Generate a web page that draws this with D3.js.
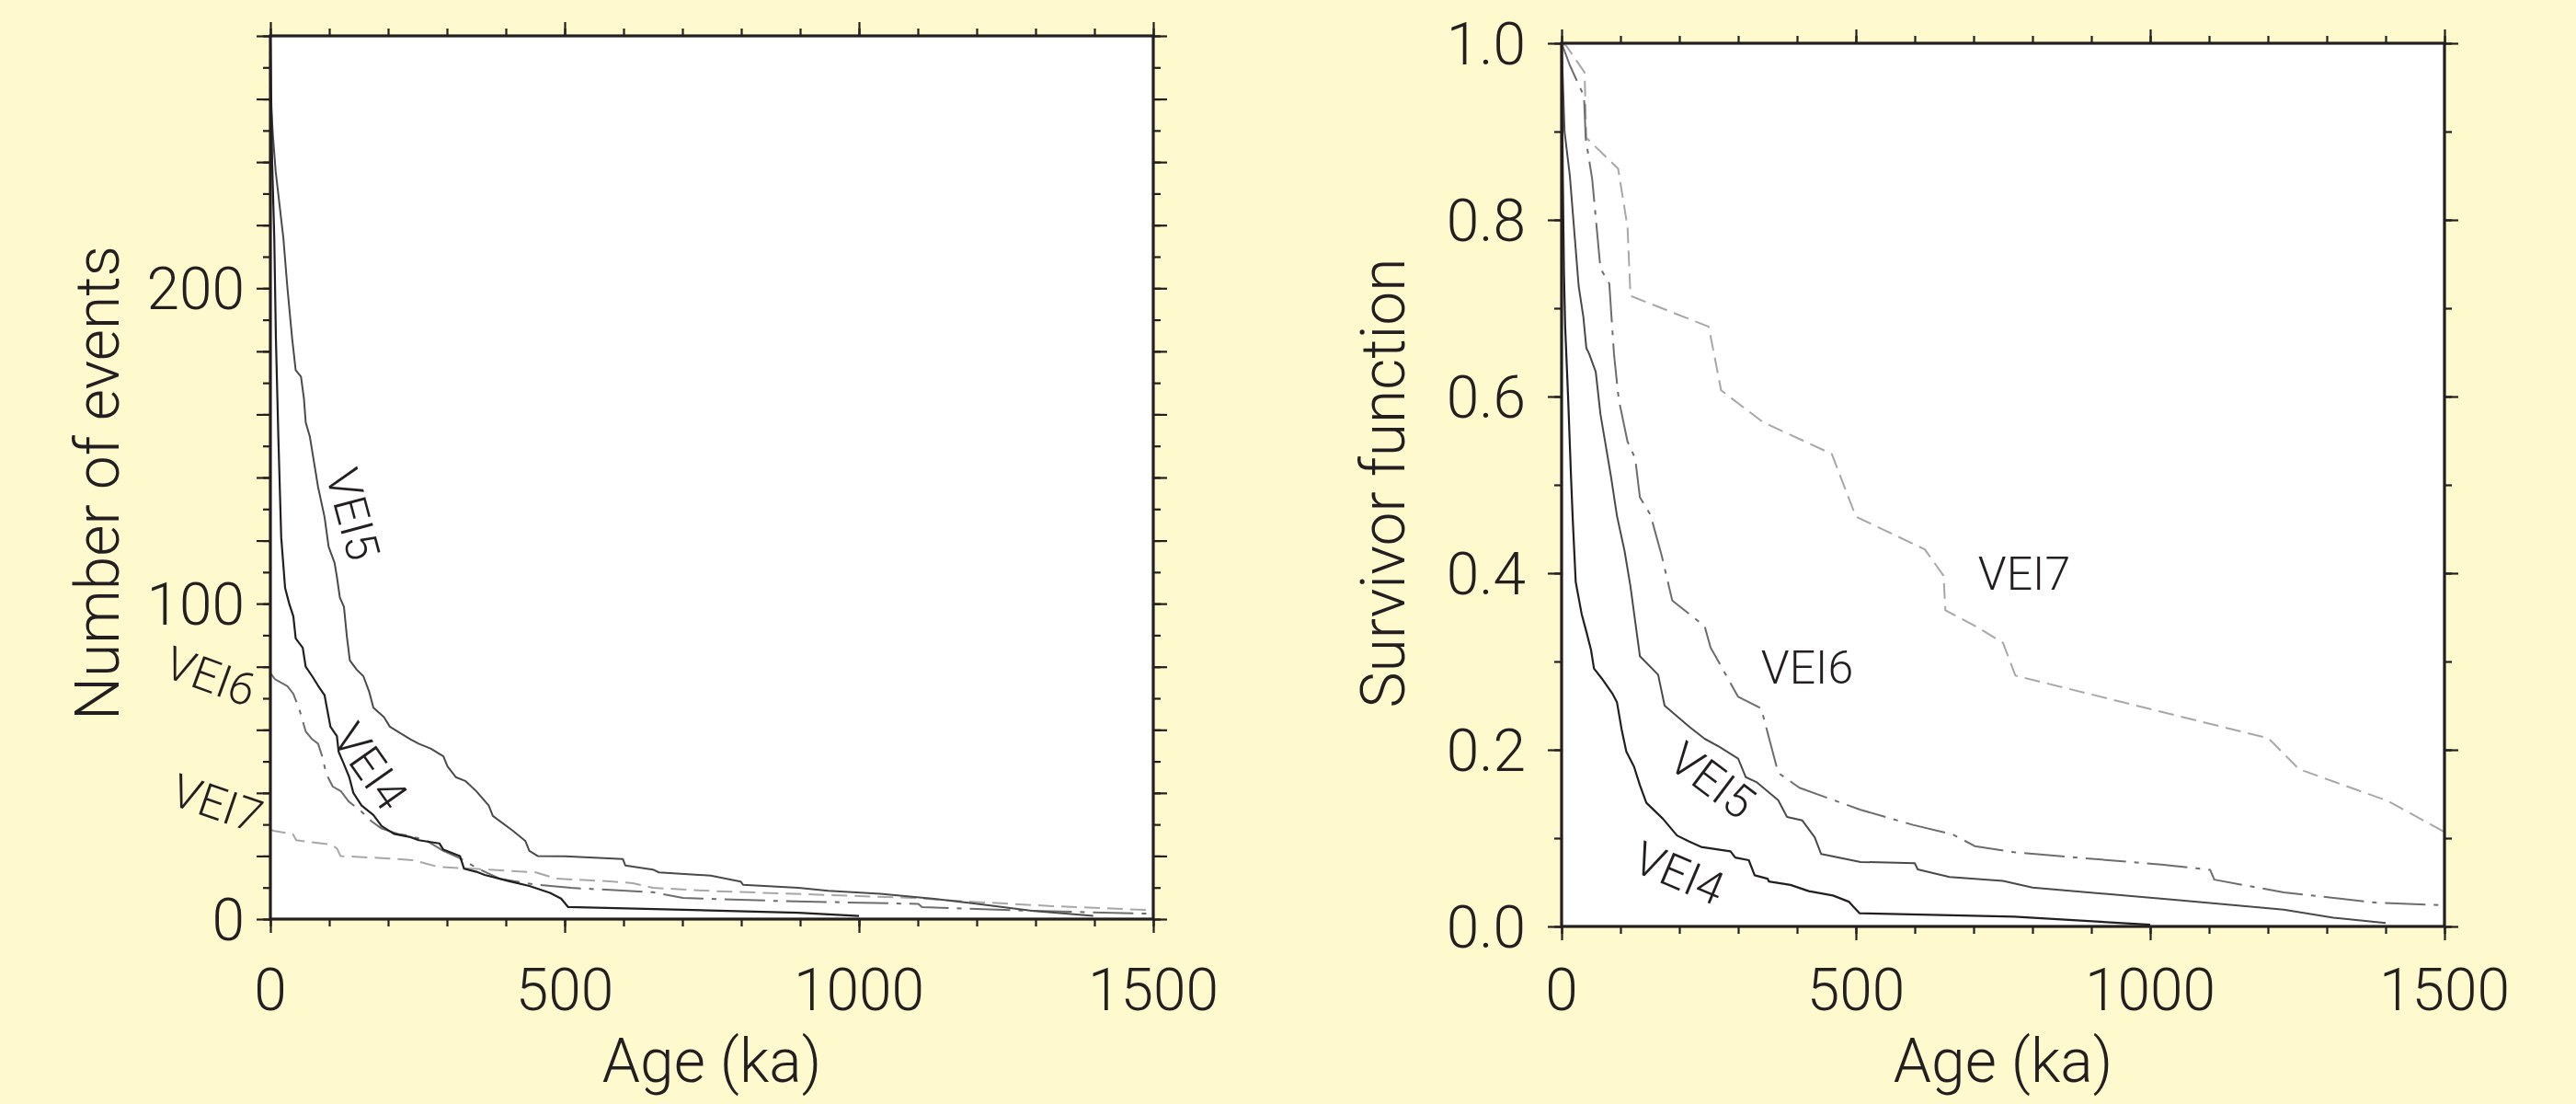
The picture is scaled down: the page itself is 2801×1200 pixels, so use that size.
<!DOCTYPE html>
<html>
<head>
<meta charset="utf-8">
<script src="https://cdn.jsdelivr.net/npm/d3@7"></script>
<style>
  html, body { margin: 0; padding: 0; background: #FFFACD; }
  svg { display: block; }
  text { font-family: Roboto, "Liberation Sans", sans-serif; font-weight: 300; fill: #231f20; }
</style>
</head>
<body>
<svg id="chart" width="2801" height="1200"></svg>
<script>
// ---------------- DATA ----------------
// Left panel: cumulative number of events vs age (ka)
const vei4Count = [[0,278],[3,240],[6.6,216],[9.4,184],[13.5,153],[18.4,121],[25,105],[32,100],[39,96],[43,89],[55,86],[60,80],[71,77],[81,74],[92,71],[99,64],[102,61],[113,58],[116,53],[123,50],[134,45],[141,40],[155,36],[175,33],[189,29.5],[210,27],[238,26],[252,25],[287,24],[294,22],[322,20],[329,16],[350,15],[364,14],[406,12],[440,10.5],[475,8.3],[494,6.5],[506,3.8],[718,2.9],[897,2],[1000,1]];
const vei5Count = [[0,262],[4.5,248],[9,237],[22,216],[29,200],[37,184],[43,174],[52,172],[57,165],[60,157.5],[67,153],[74,145],[81,137],[92,127.5],[99,118],[109,113],[113,108.5],[118,102],[125,99],[130,89.5],[135,82],[147,79],[158,77],[168,72],[175,67],[193,64],[203,61],[220,59],[238,57],[252,55.6],[273,54],[294,51.6],[301,48.4],[315,45],[332,43.7],[350,40.5],[371,36],[378,32.7],[412,28],[433,24.8],[440,21.6],[454,20],[501,19.9],[599,19],[603,17],[650,15.7],[660,14.8],[748,13.8],[799,11.9],[803,10.9],[897,9.9],[948,9],[1036,8],[1124,6.5],[1192,5],[1294,2.6],[1398,1]];
const vei6Count = [[0,78],[8,76],[29,73.8],[39,71.4],[50,66],[60,59.5],[71,57],[81,55.6],[88,51.6],[95,46],[106,42],[120,40.5],[133,37.3],[154,34.2],[172,31],[189,28.7],[217,27],[238,26.3],[266,24.8],[294,21.6],[322,19.3],[343,17],[361,15.3],[390,12.8],[451,10.9],[511,9.9],[650,8.5],[701,6.7],[853,5.8],[1101,4.8],[1107,3.8],[1294,2.6],[1500,1.7]];
const vei7Count = [[0,28.5],[5,28],[38,27],[44,25],[104,23.6],[113,22.4],[119,20],[203,19.2],[242,18.7],[266,17.5],[287,16.5],[343,16],[451,14.8],[487,12.8],[582,11.9],[616,11.4],[650,9.9],[751,8.9],[1090,6.7],[1192,5.5],[1328,4.1],[1500,2.8]];

// Right panel: survivor function vs age (ka)
const vei4Surv = [[0,1.0],[2,0.85],[4,0.74],[6,0.68],[11,0.6],[16,0.509],[19,0.46],[24,0.39],[34,0.354],[42,0.334],[50,0.313],[55,0.292],[68,0.281],[86,0.264],[94,0.254],[102,0.223],[110,0.198],[123,0.181],[133,0.16],[144,0.14],[172,0.122],[196,0.103],[217,0.096],[237,0.09],[287,0.085],[295,0.078],[318,0.075],[328,0.058],[350,0.054],[352,0.051],[389,0.047],[420,0.04],[461,0.035],[488,0.028],[495,0.023],[506,0.015],[769,0.011],[1000,0.002]];
const vei5Surv = [[0,1.0],[5,0.9],[14,0.85],[29,0.725],[37,0.69],[42,0.655],[47,0.648],[58,0.628],[66,0.58],[84,0.509],[94,0.465],[107,0.425],[117,0.385],[133,0.306],[164,0.285],[175,0.25],[217,0.226],[243,0.2125],[269,0.203],[300,0.19],[313,0.169],[331,0.1635],[368,0.143],[383,0.124],[409,0.12],[430,0.101],[441,0.082],[508,0.073],[600,0.0716],[605,0.0646],[659,0.056],[750,0.0516],[800,0.044],[1045,0.030],[1227,0.019],[1311,0.010],[1400,0.004]];
const vei6Surv = [[0,1.0],[14,0.975],[38,0.94],[41,0.892],[52,0.846],[66,0.745],[81,0.728],[89,0.648],[97,0.597],[112,0.549],[125,0.53],[133,0.486],[151,0.466],[170,0.42],[188,0.369],[243,0.34],[253,0.316],[300,0.26],[339,0.247],[368,0.174],[404,0.157],[508,0.132],[597,0.115],[665,0.104],[702,0.091],[769,0.084],[1019,0.07],[1102,0.064],[1109,0.053],[1227,0.0385],[1383,0.027],[1500,0.024]];
const vei7Surv = [[0,1.0],[8,0.997],[39,0.967],[42,0.893],[96,0.858],[112,0.792],[117,0.714],[250,0.679],[271,0.607],[342,0.571],[459,0.535],[500,0.464],[617,0.427],[649,0.397],[652,0.358],[706,0.339],[750,0.321],[771,0.284],[1201,0.213],[1253,0.178],[1404,0.142],[1500,0.107]];

const xTickLabels = [0, 500, 1000, 1500];
const leftYTickLabels = [0, 100, 200];
const rightYTickLabels = [0.0, 0.2, 0.4, 0.6, 0.8, 1.0];

// ---------------- STYLES ----------------
const styles = {
  vei4: { stroke: "#231f20", dash: null, width: 2.2 },
  vei5: { stroke: "#4a4a4a", dash: null, width: 2.0 },
  vei6: { stroke: "#6d6d6d", dash: "44,9,5,9", width: 2.0 },
  vei7: { stroke: "#a7a7a9", dash: "17,8", width: 2.0 }
};

const svg = d3.select("#chart");
const FONT_TICK = 64, FONT_TITLE = 66, FONT_LBL = 50;

function panel(opts) {
  const { left, top, size, yDomain, yMinor, yMajor, yLabels, yFmt, yLabelEnd, series, titleY, titleYPos, titleXCenter, clipId } = opts;
  const x = d3.scaleLinear().domain([0, 1500]).range([left, left + size]);
  const y = d3.scaleLinear().domain(yDomain).range([top + size, top]);
  const g = svg.append("g");

  // plot background
  g.append("rect").attr("x", left).attr("y", top).attr("width", size).attr("height", size).attr("fill", "#ffffff");

  svg.append("clipPath").attr("id", clipId).append("rect")
    .attr("x", left).attr("y", top).attr("width", size).attr("height", size);

  // series
  const line = d3.line().x(d => x(d[0])).y(d => y(d[1]));
  const sg = g.append("g").attr("clip-path", `url(#${clipId})`);
  series.forEach(s => {
    const st = styles[s.key];
    sg.append("path").datum(s.data).attr("d", line)
      .attr("fill", "none").attr("stroke", st.stroke).attr("stroke-width", st.width)
      .attr("stroke-dasharray", st.dash).attr("stroke-linejoin", "round");
  });

  // ticks via d3 axes
  const xMinor = d3.range(0, 1501, 100);
  const xMajor = d3.range(0, 1501, 500);
  const addAxis = (gen, tx, ty) => {
    const a = g.append("g").attr("transform", `translate(${tx},${ty})`).call(gen);
    a.select(".domain").remove();
    a.selectAll("text").remove();
    a.selectAll("line").attr("stroke", "#231f20").attr("stroke-width", 2.2);
    return a;
  };
  [[xMinor, 8], [xMajor, 15]].forEach(([vals, len]) => {
    addAxis(d3.axisBottom(x).tickValues(vals).tickSize(len), 0, top + size);
    addAxis(d3.axisTop(x).tickValues(vals).tickSize(len), 0, top);
  });
  [[yMinor, 8], [yMajor, 15]].forEach(([vals, len]) => {
    addAxis(d3.axisLeft(y).tickValues(vals).tickSize(len), left, 0);
    addAxis(d3.axisRight(y).tickValues(vals).tickSize(len), left + size, 0);
  });

  // frame
  g.append("rect").attr("x", left).attr("y", top).attr("width", size).attr("height", size)
    .attr("fill", "none").attr("stroke", "#231f20").attr("stroke-width", 3.2);

  // tick labels
  g.selectAll(".xl").data(xTickLabels).enter().append("text")
    .attr("x", d => x(d)).attr("y", 1098).attr("text-anchor", "middle")
    .attr("font-size", FONT_TICK).text(d => d);
  g.selectAll(".yl").data(yLabels).enter().append("text")
    .attr("x", yLabelEnd).attr("y", d => y(d)).attr("dy", "0.355em").attr("text-anchor", "end")
    .attr("font-size", FONT_TICK).text(yFmt);

  // axis titles
  g.append("text").attr("x", titleXCenter).attr("y", 1176).attr("text-anchor", "middle")
    .attr("font-size", FONT_TITLE).text("Age (ka)");
  g.append("text").attr("transform", `translate(${titleYPos[0]},${titleYPos[1]}) rotate(-90)`)
    .attr("text-anchor", "middle").attr("font-size", FONT_TITLE).text(titleY);
  return { x, y, g };
}

// Left panel
const L = panel({
  left: 294, top: 39, size: 960, yDomain: [0, 280],
  yMinor: d3.range(0, 281, 10), yMajor: d3.range(0, 281, 20),
  yLabels: leftYTickLabels, yFmt: d => d, yLabelEnd: 266,
  series: [
    { key: "vei7", data: vei7Count },
    { key: "vei6", data: vei6Count },
    { key: "vei5", data: vei5Count },
    { key: "vei4", data: vei4Count }
  ],
  titleY: "Number of events", titleYPos: [129, 525], titleXCenter: 774, clipId: "clipL"
});

// Right panel
const R = panel({
  left: 1698, top: 47, size: 960, yDomain: [0, 1],
  yMinor: d3.range(0, 11).map(i => i / 10), yMajor: d3.range(0, 6).map(i => i / 5),
  yLabels: rightYTickLabels, yFmt: d3.format(".1f"), yLabelEnd: 1659,
  series: [
    { key: "vei7", data: vei7Surv },
    { key: "vei6", data: vei6Surv },
    { key: "vei5", data: vei5Surv },
    { key: "vei4", data: vei4Surv }
  ],
  titleY: "Survivor function", titleYPos: [1527, 525], titleXCenter: 2178, clipId: "clipR"
});

// Curve labels
const labels = [
  { t: "VEI5", cx: 384, cy: 559, a: 75 },
  { t: "VEI4", cx: 403, cy: 833, a: 55 },
  { t: "VEI6", cx: 229, cy: 735, a: 20 },
  { t: "VEI7", cx: 236, cy: 873, a: 19 },
  { t: "VEI7", cx: 2201, cy: 623, a: 0 },
  { t: "VEI6", cx: 1965, cy: 725, a: 0 },
  { t: "VEI5", cx: 1862, cy: 848, a: 37 },
  { t: "VEI4", cx: 1826, cy: 949, a: 23 }
];
svg.append("g").selectAll("text").data(labels).enter().append("text")
  .attr("transform", d => `translate(${d.cx},${d.cy}) rotate(${d.a})`)
  .attr("text-anchor", "middle").attr("dy", "0.355em")
  .attr("font-size", FONT_LBL).text(d => d.t);
</script>
</body>
</html>
